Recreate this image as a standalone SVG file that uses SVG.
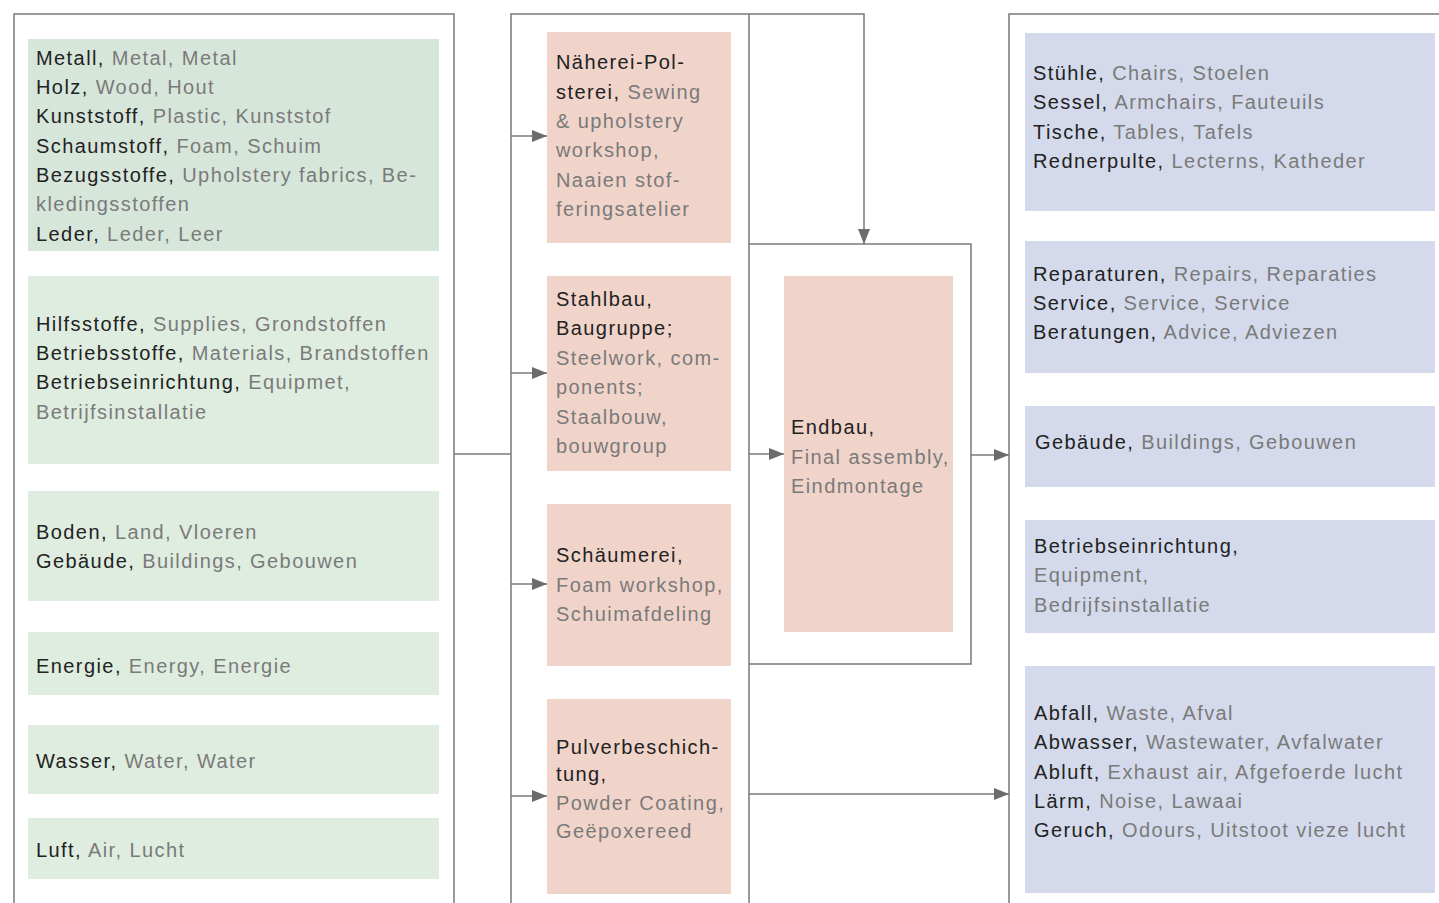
<svg xmlns="http://www.w3.org/2000/svg" width="1439" height="903" viewBox="0 0 1439 903">
<style>
  text { font-family: "Liberation Sans", Arial, sans-serif; font-size: 20px; letter-spacing: 1.42px; fill: #7a7a7a; }
  .k { fill: #222222; }
  .g1 { fill: #d7e6da; }
  .g { fill: #dfede0; }
  .p { fill: #f0d4ca; }
  .b { fill: #d4daeb; }
  .ln { fill: none; stroke: #7a7a7a; stroke-width: 1.5; }
  .ar { fill: none; stroke: #7a7a7a; stroke-width: 1.5; marker-end: url(#ah); }
</style>
<defs>
  <marker id="ah" viewBox="0 0 15 12" refX="15" refY="6" markerWidth="15" markerHeight="12" markerUnits="userSpaceOnUse" orient="auto">
    <path d="M0,0 L15,6 L0,12 Z" fill="#6b6b6b"/>
  </marker>
</defs>
<rect width="1439" height="903" fill="#ffffff"/>

<g id="frames">
  <path class="ln" d="M14,903 V14 H454 V903"/>
  <path class="ln" d="M511,903 V14 H749 V903"/>
  <path class="ln" d="M749,244 H971 V664 H749"/>
  <path class="ln" d="M1009,903 V14 H1439"/>
</g>

<g id="connectors">
  <path class="ln" d="M454,454 H511"/>
  <path class="ar" d="M511,136 H547"/>
  <path class="ar" d="M511,373 H547"/>
  <path class="ar" d="M511,584 H547"/>
  <path class="ar" d="M511,796 H547"/>
  <path class="ar" d="M749,14 H864 V244"/>
  <path class="ar" d="M749,454 H784"/>
  <path class="ar" d="M971,455 H1009"/>
  <path class="ar" d="M749,794 H1009"/>
</g>

<g id="in-1">
  <rect class="g1" x="28" y="39" width="411" height="212"/>
  <text x="36" y="65"><tspan class="k">Metall,</tspan> Metal, Metal</text>
  <text x="36" y="94"><tspan class="k">Holz,</tspan> Wood, Hout</text>
  <text x="36" y="123"><tspan class="k">Kunststoff,</tspan> Plastic, Kunststof</text>
  <text x="36" y="153"><tspan class="k">Schaumstoff,</tspan> Foam, Schuim</text>
  <text x="36" y="182"><tspan class="k">Bezugsstoffe,</tspan> Upholstery fabrics, Be-</text>
  <text x="36" y="211">kledingsstoffen</text>
  <text x="36" y="241"><tspan class="k">Leder,</tspan> Leder, Leer</text>
</g>
<g id="in-2">
  <rect class="g" x="28" y="276" width="411" height="188"/>
  <text x="36" y="331"><tspan class="k">Hilfsstoffe,</tspan> Supplies, Grondstoffen</text>
  <text x="36" y="360"><tspan class="k">Betriebsstoffe,</tspan> Materials, Brandstoffen</text>
  <text x="36" y="389"><tspan class="k">Betriebseinrichtung,</tspan> Equipmet,</text>
  <text x="36" y="419">Betrijfsinstallatie</text>
</g>
<g id="in-3">
  <rect class="g" x="28" y="491" width="411" height="110"/>
  <text x="36" y="539"><tspan class="k">Boden,</tspan> Land, Vloeren</text>
  <text x="36" y="568"><tspan class="k">Gebäude,</tspan> Buildings, Gebouwen</text>
</g>
<g id="in-4">
  <rect class="g" x="28" y="632" width="411" height="63"/>
  <text x="36" y="673"><tspan class="k">Energie,</tspan> Energy, Energie</text>
</g>
<g id="in-5">
  <rect class="g" x="28" y="725" width="411" height="69"/>
  <text x="36" y="768"><tspan class="k">Wasser,</tspan> Water, Water</text>
</g>
<g id="in-6">
  <rect class="g" x="28" y="818" width="411" height="61"/>
  <text x="36" y="857"><tspan class="k">Luft,</tspan> Air, Lucht</text>
</g>

<g id="proc-1">
  <rect class="p" x="547" y="32" width="184" height="211"/>
  <text x="556" y="69" class="k">Näherei-Pol-</text>
  <text x="556" y="99"><tspan class="k">sterei,</tspan> Sewing</text>
  <text x="556" y="128">&amp; upholstery</text>
  <text x="556" y="157">workshop,</text>
  <text x="556" y="187">Naaien stof-</text>
  <text x="556" y="216">feringsatelier</text>
</g>
<g id="proc-2">
  <rect class="p" x="547" y="276" width="184" height="195"/>
  <text x="556" y="306" class="k">Stahlbau,</text>
  <text x="556" y="335" class="k">Baugruppe;</text>
  <text x="556" y="365">Steelwork, com-</text>
  <text x="556" y="394">ponents;</text>
  <text x="556" y="424">Staalbouw,</text>
  <text x="556" y="453">bouwgroup</text>
</g>
<g id="proc-3">
  <rect class="p" x="547" y="504" width="184" height="162"/>
  <text x="556" y="562" class="k">Schäumerei,</text>
  <text x="556" y="592">Foam workshop,</text>
  <text x="556" y="621">Schuimafdeling</text>
</g>
<g id="proc-4">
  <rect class="p" x="547" y="699" width="184" height="195"/>
  <text x="556" y="754" class="k">Pulverbeschich-</text>
  <text x="556" y="781" class="k">tung,</text>
  <text x="556" y="810">Powder Coating,</text>
  <text x="556" y="838">Geëpoxereed</text>
</g>
<g id="endbau">
  <rect class="p" x="784" y="276" width="169" height="356"/>
  <text x="791" y="434" class="k">Endbau,</text>
  <text x="791" y="464">Final assembly,</text>
  <text x="791" y="493">Eindmontage</text>
</g>

<g id="out-1">
  <rect class="b" x="1025" y="33" width="410" height="178"/>
  <text x="1033" y="80"><tspan class="k">Stühle,</tspan> Chairs, Stoelen</text>
  <text x="1033" y="109"><tspan class="k">Sessel,</tspan> Armchairs, Fauteuils</text>
  <text x="1033" y="139"><tspan class="k">Tische,</tspan> Tables, Tafels</text>
  <text x="1033" y="168"><tspan class="k">Rednerpulte,</tspan> Lecterns, Katheder</text>
</g>
<g id="out-2">
  <rect class="b" x="1025" y="241" width="410" height="132"/>
  <text x="1033" y="281"><tspan class="k">Reparaturen,</tspan> Repairs, Reparaties</text>
  <text x="1033" y="310"><tspan class="k">Service,</tspan> Service, Service</text>
  <text x="1033" y="339"><tspan class="k">Beratungen,</tspan> Advice, Adviezen</text>
</g>
<g id="out-3">
  <rect class="b" x="1025" y="406" width="410" height="81"/>
  <text x="1035" y="449"><tspan class="k">Gebäude,</tspan> Buildings, Gebouwen</text>
</g>
<g id="out-4">
  <rect class="b" x="1025" y="520" width="410" height="113"/>
  <text x="1034" y="553" class="k">Betriebseinrichtung,</text>
  <text x="1034" y="582">Equipment,</text>
  <text x="1034" y="612">Bedrijfsinstallatie</text>
</g>
<g id="out-5">
  <rect class="b" x="1025" y="666" width="410" height="227"/>
  <text x="1034" y="720"><tspan class="k">Abfall,</tspan> Waste, Afval</text>
  <text x="1034" y="749"><tspan class="k">Abwasser,</tspan> Wastewater, Avfalwater</text>
  <text x="1034" y="779"><tspan class="k">Abluft,</tspan> Exhaust air, Afgefoerde lucht</text>
  <text x="1034" y="808"><tspan class="k">Lärm,</tspan> Noise, Lawaai</text>
  <text x="1034" y="837"><tspan class="k">Geruch,</tspan> Odours, Uitstoot vieze lucht</text>
</g>
</svg>
